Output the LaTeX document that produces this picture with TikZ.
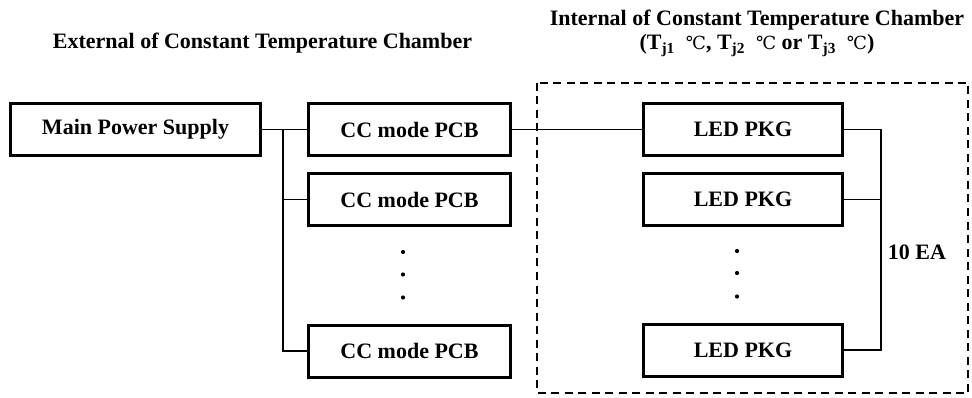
\documentclass[tikz,border=0pt]{standalone}
\usepackage{fontspec}
\setmainfont{Liberation Serif}
\newfontfamily\symfont{DejaVu Serif}
\newcommand{\degc}{{\symfont\mdseries\fontsize{18}{20}\selectfont ℃}}
\begin{document}
\begin{tikzpicture}[x=1pt,y=-1pt,
  box/.style={draw=black,line width=3pt,rectangle,minimum height=52pt,inner sep=0pt,
    font=\fontsize{22}{26}\selectfont\bfseries},
  wire/.style={draw=black,line width=1.8pt},
  dotn/.style={circle,fill=black,inner sep=0pt,minimum size=4.2pt},
  lbl/.style={font=\fontsize{22}{26}\selectfont\bfseries,inner sep=0pt,anchor=base}]
\useasboundingbox (0,0) rectangle (972,398);
% chamber boundary
\draw[line width=2pt,dash pattern=on 8pt off 5.5pt] (537,83) rectangle (968,393);
% titles
\node[lbl] (ext) at (262.5,49) {External of Constant Temperature Chamber};
\node[lbl] (int1) at (757,26) {Internal of Constant Temperature Chamber};
\node[lbl] (int2) at (757,50) {(T\textsubscript{j1}\ \ \degc, T\textsubscript{j2}\ \ \degc\ or T\textsubscript{j3}\ \ \degc)};
% boxes
\node[box,minimum width=250pt] (mps) at (135.5,129.5) {Main Power Supply};
\node[box,minimum width=202pt] (cc1) at (409.5,129.5) {CC mode PCB};
\node[box,minimum width=202pt] (cc2) at (409.5,199.5) {CC mode PCB};
\node[box,minimum width=202pt] (cc4) at (409.5,351) {CC mode PCB};
\node[box,minimum width=199pt] (led1) at (743,129.5) {LED PKG};
\node[box,minimum width=199pt] (led2) at (743,199.5) {LED PKG};
\node[box,minimum width=199pt] (led4) at (743,350) {LED PKG};
% dots
\node[dotn] (ca) at (403,252) {};
\node[dotn] (cb) at (403,274.5) {};
\node[dotn] (cc) at (403,297.5) {};
\node[dotn] (la) at (737,251) {};
\node[dotn] (lb) at (737,273) {};
\node[dotn] (lc) at (737,296.5) {};
% label
\node[lbl,anchor=center] (ea) at (917,252) {10 EA};
% connectors
\coordinate (jl) at (283,129.5);
\coordinate (jr) at (881,129.5);
\draw[wire] (mps.east) -- (cc1.west);
\draw[wire] (jl) |- (cc4.west);
\draw[wire] (cc2.west) -- (cc2.west -| jl);
\draw[wire] (cc1.east) -- (led1.west);
\draw[wire] (led1.east) -- (jr) |- (led4.east);
\draw[wire] (led2.east) -- (led2.east -| jr);
\end{tikzpicture}
\end{document}
